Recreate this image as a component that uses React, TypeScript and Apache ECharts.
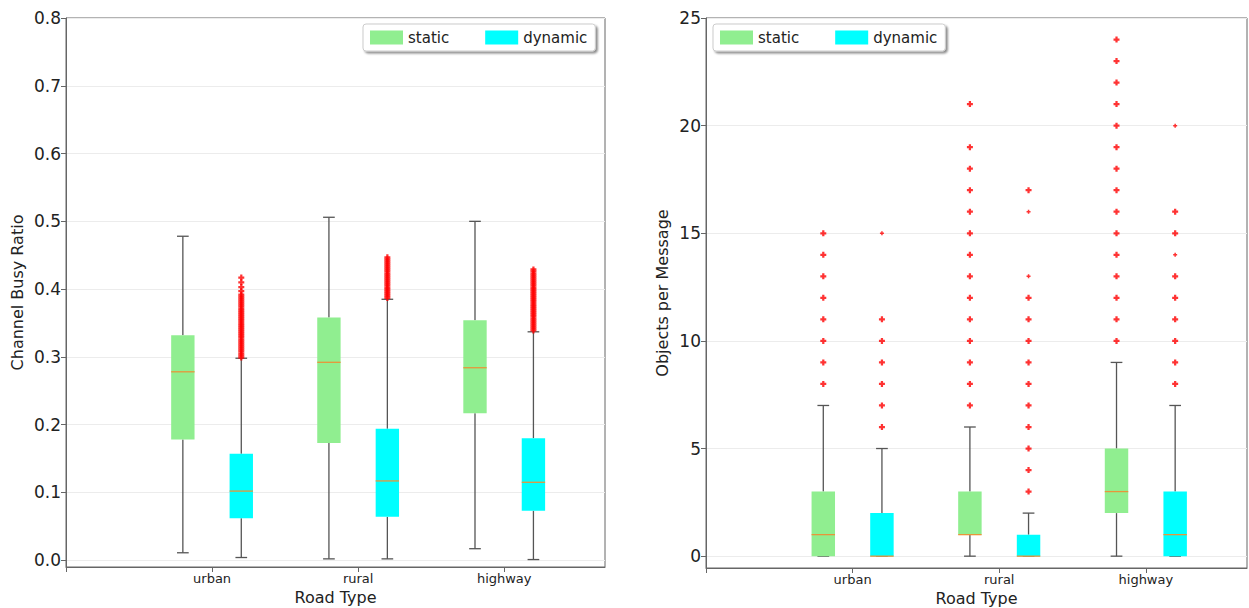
import React, { useEffect, useRef } from "react";
import * as echarts from "echarts";

const categories = ["urban", "rural", "highway"];

// [whiskerLow, q1, median, q3, whiskerHigh]
const busyStatic = [
  [0.011, 0.178, 0.278, 0.332, 0.478],
  [0.002, 0.173, 0.292, 0.358, 0.506],
  [0.017, 0.217, 0.284, 0.354, 0.5],
];
const busyDynamic = [
  [0.004, 0.062, 0.102, 0.157, 0.298],
  [0.002, 0.064, 0.117, 0.194, 0.385],
  [0.001, 0.073, 0.115, 0.18, 0.337],
];
const busyDynamicOutliers = [
  [0.299, 0.302, 0.305, 0.308, 0.311, 0.314, 0.317, 0.32, 0.323, 0.326, 0.329, 0.332, 0.335, 0.338, 0.341, 0.344, 0.347, 0.35, 0.353, 0.356, 0.359, 0.362, 0.365, 0.368, 0.371, 0.374, 0.377, 0.38, 0.383, 0.386, 0.389, 0.392, 0.397, 0.403, 0.41, 0.417],
  [0.387, 0.39, 0.393, 0.396, 0.399, 0.402, 0.405, 0.408, 0.411, 0.414, 0.417, 0.42, 0.423, 0.426, 0.429, 0.432, 0.435, 0.438, 0.441, 0.444, 0.447],
  [0.339, 0.342, 0.345, 0.348, 0.351, 0.354, 0.357, 0.36, 0.363, 0.366, 0.369, 0.372, 0.375, 0.378, 0.381, 0.384, 0.387, 0.39, 0.393, 0.396, 0.399, 0.402, 0.405, 0.408, 0.411, 0.414, 0.417, 0.42, 0.423, 0.426, 0.429],
];

const objStatic = [
  [0, 0, 1, 3, 7],
  [0, 1, 1, 3, 6],
  [0, 2, 3, 5, 9],
];
const objDynamic = [
  [0, 0, 0, 2, 5],
  [0, 0, 0, 1, 2],
  [0, 0, 1, 3, 7],
];
const objStaticOutliers = [
  [8, 9, 10, 11, 12, 13, 14, 15],
  [7, 8, 9, 10, 11, 12, 13, 14, 15, 16, 17, 18, 19, 21],
  [10, 11, 12, 13, 14, 15, 16, 17, 18, 19, 20, 21, 22, 23, 24],
];
const objDynamicOutliers = [
  [6, 7, 8, 9, 10, 11],
  [3, 4, 5, 6, 7, 8, 9, 10, 11, 12, 17],
  [8, 9, 10, 11, 12, 13, 15, 16],
];
const objDynamicRareOutliers = [[15], [13, 16], [14, 20]];

const busyTicks = [0, 0.1, 0.2, 0.3, 0.4, 0.5, 0.6, 0.7, 0.8];
const objTicks = [0, 5, 10, 15, 20, 25];

const OFFSET = 0.2;
const BOX_W = 0.16;
const STATIC_COLOR = "#90ee90";
const DYNAMIC_COLOR = "#00ffff";
const FONT = "DejaVu Sans";
const TEXT = "#222";
const FRAME = "#666";

const boxData = (rows: number[][], off: number) =>
  rows.map((r, i) => [i + 1 + off, ...r]);

const outlierData = (rows: number[][], off: number) => {
  const out: number[][] = [];
  rows.forEach((vals, i) => vals.forEach((v) => out.push([i + 1 + off, v])));
  return out;
};

const renderBox = (color: string) => (params: any, api: any) => {
  const x = api.value(0);
  const lo = api.coord([x, api.value(1)]);
  const q1 = api.coord([x, api.value(2)]);
  const med = api.coord([x, api.value(3)]);
  const q3 = api.coord([x, api.value(4)]);
  const hi = api.coord([x, api.value(5)]);
  const w = api.size([BOX_W, 0])[0];
  const cx = lo[0];
  const wl = { stroke: "#555", lineWidth: 1.3 };
  return {
    type: "group",
    children: [
      { type: "line", shape: { x1: cx, y1: q1[1], x2: cx, y2: lo[1] }, style: wl },
      { type: "line", shape: { x1: cx, y1: q3[1], x2: cx, y2: hi[1] }, style: wl },
      { type: "line", shape: { x1: cx - w / 4, y1: lo[1], x2: cx + w / 4, y2: lo[1] }, style: wl },
      { type: "line", shape: { x1: cx - w / 4, y1: hi[1], x2: cx + w / 4, y2: hi[1] }, style: wl },
      {
        type: "rect",
        shape: { x: cx - w / 2, y: q3[1], width: w, height: q1[1] - q3[1] },
        style: { fill: color },
      },
      {
        type: "line",
        shape: { x1: cx - w / 2, y1: med[1], x2: cx + w / 2, y2: med[1] },
        style: { stroke: "#e8953a", lineWidth: 1.3 },
      },
    ],
  };
};

const PLUS = "path://M2.5,0H5.5V2.5H8V5.5H5.5V8H2.5V5.5H0V2.5H2.5Z";

function makeXAxis(gridIndex: number) {
  return {
    type: "value",
    gridIndex,
    min: 0,
    max: 3.69,
    name: "Road Type",
    nameLocation: "middle",
    nameGap: 22,
    nameMoveOverlap: false,
    nameTextStyle: { fontFamily: FONT, fontSize: 16, color: TEXT, verticalAlign: "top" },
    axisLine: { show: true, onZero: false, lineStyle: { color: FRAME } },
    axisTick: { show: true, length: 5, customValues: [0, 1, 2, 3], lineStyle: { color: FRAME } },
    axisLabel: {
      customValues: [1, 2, 3],
      formatter: (v: number) => categories[Math.round(v) - 1] || "",
      fontFamily: FONT,
      fontSize: 13,
      color: TEXT,
      margin: 5,
    },
    splitLine: { show: false },
  };
}

function makeYAxis(gridIndex: number, min: number, max: number, ticks: number[], name: string, fmt: (v: number) => string, gap: number) {
  return {
    type: "value",
    gridIndex,
    min,
    max,
    name,
    nameLocation: "middle",
    nameGap: gap,
    nameMoveOverlap: false,
    nameTextStyle: { fontFamily: FONT, fontSize: 16, color: TEXT },
    axisLine: { show: true, onZero: false, lineStyle: { color: FRAME } },
    axisTick: { show: true, length: 5, customValues: ticks, lineStyle: { color: FRAME } },
    axisLabel: { customValues: ticks, formatter: fmt, fontFamily: FONT, fontSize: 17, color: TEXT, margin: 5 },
    splitLine: { show: true, lineStyle: { color: "#ececec", width: 1 } },
  };
}

const legendBase = {
  orient: "horizontal",
  top: 24,
  itemWidth: 33,
  itemHeight: 14,
  itemGap: 36,
  icon: "rect",
  data: ["static", "dynamic"],
  backgroundColor: "#fff",
  borderColor: "#ccc",
  borderWidth: 1,
  borderRadius: 3,
  padding: [6, 8, 6, 7],
  shadowColor: "rgba(0,0,0,0.45)",
  shadowBlur: 2,
  shadowOffsetX: 2,
  shadowOffsetY: 2,
  textStyle: { fontFamily: FONT, fontSize: 15, color: TEXT },
  selectedMode: false,
};

export default function App() {
  const ref = useRef<HTMLDivElement>(null);
  useEffect(() => {
    if (!ref.current) return;
    const chart = echarts.init(ref.current, null, { renderer: "svg" });
    const option: any = {
      animation: false,
      backgroundColor: "#fff",
      grid: [
        { left: 66, top: 18, width: 539, height: 549, show: true, borderColor: FRAME, borderWidth: 1, backgroundColor: "transparent", outerBoundsMode: "none", containLabel: false },
        { left: 706, top: 18, width: 541, height: 550, show: true, borderColor: FRAME, borderWidth: 1, backgroundColor: "transparent", outerBoundsMode: "none", containLabel: false },
      ],
      legend: [
        { ...legendBase, left: 363 },
        { ...legendBase, left: 713 },
      ],
      xAxis: [makeXAxis(0), makeXAxis(1)],
      yAxis: [
        makeYAxis(0, -0.01, 0.8, busyTicks, "Channel Busy Ratio", (v: number) => v.toFixed(1), 41),
        makeYAxis(1, -0.55, 25, objTicks, "Objects per Message", (v: number) => String(Math.round(v)), 36),
      ],
      series: [
        {
          name: "static", type: "custom", xAxisIndex: 0, yAxisIndex: 0,
          itemStyle: { color: STATIC_COLOR },
          renderItem: renderBox(STATIC_COLOR),
          encode: { x: 0, y: [1, 2, 3, 4, 5] },
          data: boxData(busyStatic, -OFFSET),
        },
        {
          name: "dynamic", type: "custom", xAxisIndex: 0, yAxisIndex: 0,
          itemStyle: { color: DYNAMIC_COLOR },
          renderItem: renderBox(DYNAMIC_COLOR),
          encode: { x: 0, y: [1, 2, 3, 4, 5] },
          data: boxData(busyDynamic, OFFSET),
        },
        {
          name: "outliers", type: "scatter", xAxisIndex: 0, yAxisIndex: 0,
          symbol: PLUS, symbolSize: 6, itemStyle: { color: "#ff0000" },
          data: outlierData(busyDynamicOutliers, OFFSET),
        },
        {
          name: "static", type: "custom", xAxisIndex: 1, yAxisIndex: 1,
          itemStyle: { color: STATIC_COLOR },
          renderItem: renderBox(STATIC_COLOR),
          encode: { x: 0, y: [1, 2, 3, 4, 5] },
          data: boxData(objStatic, -OFFSET),
        },
        {
          name: "dynamic", type: "custom", xAxisIndex: 1, yAxisIndex: 1,
          itemStyle: { color: DYNAMIC_COLOR },
          renderItem: renderBox(DYNAMIC_COLOR),
          encode: { x: 0, y: [1, 2, 3, 4, 5] },
          data: boxData(objDynamic, OFFSET),
        },
        {
          name: "outliers", type: "scatter", xAxisIndex: 1, yAxisIndex: 1,
          symbol: PLUS, symbolSize: 6, itemStyle: { color: "#ff0000" },
          data: [...outlierData(objStaticOutliers, -OFFSET), ...outlierData(objDynamicOutliers, OFFSET)],
        },
        {
          name: "outliers", type: "scatter", xAxisIndex: 1, yAxisIndex: 1,
          symbol: PLUS, symbolSize: 4, itemStyle: { color: "#ff0000" },
          data: outlierData(objDynamicRareOutliers, OFFSET),
        },
      ],
    };
    chart.setOption(option);
    return () => chart.dispose();
  }, []);
  return (
    <div
      ref={ref}
      style={{ position: "fixed", left: 0, top: 0, width: 1249, height: 608, background: "#fff" }}
    />
  );
}
